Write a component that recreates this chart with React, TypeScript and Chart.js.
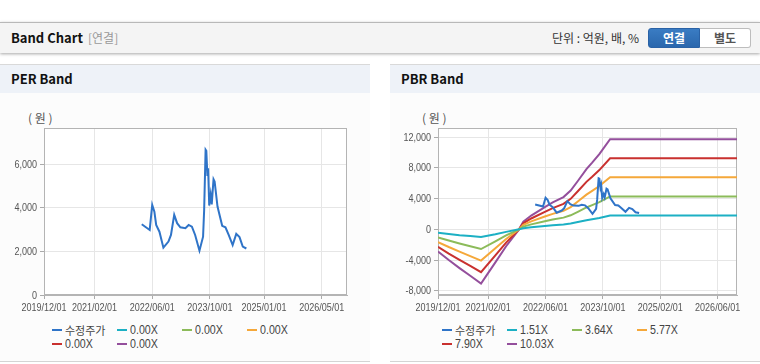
import React, { useEffect, useRef } from "react";
import { Chart, registerables } from "chart.js";

Chart.register(...registerables);

// ---------- data ----------
const perTickMonths = [0, 14, 30, 46, 61, 77];
const perTickLabels = ["2019/12/01", "2021/02/01", "2022/06/01", "2023/10/01", "2025/01/01", "2026/05/01"];
const pbrTickMonths = [0, 14, 30, 46, 62, 78];
const pbrTickLabels = ["2019/12/01", "2021/02/01", "2022/06/01", "2023/10/01", "2025/02/01", "2026/06/01"];
const perYTicks = [0, 2000, 4000, 6000];
const pbrYTicks = [-8000, -4000, 0, 4000, 8000, 12000];

// months since 2019/12/01
const priceMonths = [27.1, 29.3, 30.0, 30.6, 31.1, 32.0, 33.1, 34.5, 35.2, 36.1, 36.9, 37.8, 39.2, 40.1, 41.0, 41.9, 43.1, 44.1, 44.4, 44.8, 45.0, 45.3, 45.5, 45.8, 46.2, 46.5, 47.0, 47.3, 48.1, 49.4, 50.3, 51.2, 52.3, 53.3, 54.2, 55.1, 56.1];
const priceValues = [3240, 2980, 4130, 3820, 3210, 2900, 2170, 2450, 2750, 3670, 3290, 3100, 3060, 3210, 3130, 2750, 2030, 2670, 3900, 6650, 6600, 5450, 5800, 4100, 4600, 4150, 5300, 5200, 4050, 3170, 3100, 2750, 2290, 2800, 2650, 2220, 2130];

const bandMonths = [0, 3, 6, 9, 12, 16, 19, 22.6, 23.8, 26, 29.8, 32, 35, 37, 39, 41.4, 43, 45, 48, 84];
const band151 = [-435, -602, -760, -880, -1000, -648, -331, 0, 151, 270, 436, 527, 633, 760, 948, 1182, 1309, 1475, 1800, 1800];
const band364 = [-1048, -1452, -1831, -2195, -2566, -1562, -797, 0, 364, 652, 1052, 1270, 1525, 1831, 2286, 2850, 3156, 3556, 4290, 4290];
const band577 = [-1662, -2302, -2902, -3479, -4068, -2475, -1264, 0, 577, 1033, 1668, 2014, 2418, 2902, 3624, 4518, 5003, 5637, 6780, 6780];
const band790 = [-2275, -3152, -3974, -4764, -5570, -3389, -1730, 0, 790, 1414, 2283, 2757, 3310, 3974, 4961, 6186, 6849, 7718, 9260, 9260];
const band1003 = [-2889, -4002, -5045, -6048, -7071, -4303, -2197, 0, 1003, 1795, 2899, 3500, 4203, 5045, 6299, 7853, 8696, 9799, 11750, 11750];

const priceLabel = "수정주가";
const perBandLabels = ["0.00X", "0.00X", "0.00X", "0.00X", "0.00X"];
const pbrBandLabels = ["1.51X", "3.64X", "5.77X", "7.90X", "10.03X"];
const seriesColors = ["#2f74c8", "#1cb0c4", "#8cbb5a", "#f5a83a", "#c9312f", "#944f9c"];

const LAT_FONT = "'Liberation Sans', Arial, sans-serif";
const KR_FONT = "'Noto Sans CJK KR', 'Noto Sans', sans-serif";
const NARROW = 0.82;

const framePlugin = {
  id: "frame",
  beforeDraw(chart: any) {
    const { ctx, chartArea: a } = chart;
    ctx.save();
    ctx.fillStyle = "#ffffff";
    ctx.fillRect(a.left, a.top, a.right - a.left, a.bottom - a.top);
    ctx.restore();
  },
  beforeDatasetsDraw(chart: any) {
    const { ctx, chartArea: a } = chart;
    ctx.save();
    ctx.strokeStyle = "#b4b4b4";
    ctx.lineWidth = 1;
    const l = Math.round(a.left) + 0.5;
    const t = Math.round(a.top) + 0.5;
    const r = Math.round(a.right) - 0.5;
    const b = Math.round(a.bottom) - 0.5;
    ctx.strokeRect(l, t, r - l, b - t);
    ctx.restore();
  },
};

// draws the scales' own tick labels in a horizontally condensed face
const narrowLabelPlugin = {
  id: "narrowLabels",
  afterDraw(chart: any) {
    const { ctx, chartArea: a } = chart;
    const xs = chart.scales.x;
    const ys = chart.scales.y;
    ctx.save();
    ctx.fillStyle = "#555";
    ctx.font = "11px " + LAT_FONT;
    ctx.textBaseline = "top";
    ctx.textAlign = "center";
    xs.ticks.forEach((t: any) => {
      const px = xs.getPixelForValue(t.value);
      ctx.save();
      ctx.translate(px, a.bottom + 7);
      ctx.scale(NARROW, 1);
      ctx.fillText(String(t.label), 0, 0);
      ctx.restore();
    });
    ctx.textBaseline = "middle";
    ctx.textAlign = "right";
    ys.ticks.forEach((t: any) => {
      const py = ys.getPixelForValue(t.value);
      ctx.save();
      ctx.translate(a.left - 7, py + 0.5);
      ctx.scale(NARROW, 1);
      ctx.fillText(String(t.label), 0, 0);
      ctx.restore();
    });
    ctx.restore();
  },
};

function pts(xs: number[], ys: number[]) {
  return xs.map((x, i) => ({ x, y: ys[i] }));
}

function makeConfig(kind: "per" | "pbr"): any {
  const isPer = kind === "per";
  const tickMonths = isPer ? perTickMonths : pbrTickMonths;
  const tickLabels = isPer ? perTickLabels : pbrTickLabels;
  const yTicks = isPer ? perYTicks : pbrYTicks;
  const bandLabels = isPer ? perBandLabels : pbrBandLabels;
  const bandSeries = [band151, band364, band577, band790, band1003];
  const datasets: any[] = [
    {
      label: priceLabel,
      data: pts(priceMonths, priceValues),
      borderColor: seriesColors[0],
      borderWidth: 2,
    },
  ];
  bandLabels.forEach((lab, i) => {
    datasets.push({
      label: lab,
      data: isPer ? [] : pts(bandMonths, bandSeries[i]),
      borderColor: seriesColors[i + 1],
      borderWidth: 2,
    });
  });
  return {
    type: "line",
    data: { datasets },
    plugins: [framePlugin, narrowLabelPlugin],
    options: {
      animation: false,
      responsive: false,
      devicePixelRatio: 1,
      layout: { padding: { left: 0, right: 23, top: 8, bottom: 0 } },
      elements: { point: { radius: 0 }, line: { tension: 0 } },
      plugins: { legend: { display: false }, tooltip: { enabled: false } },
      scales: {
        x: {
          type: "linear",
          min: 0,
          max: isPer ? 84 : 83.4,
          afterBuildTicks: (s: any) => {
            s.ticks = tickMonths.map((v) => ({ value: v }));
          },
          afterFit: (s: any) => {
            s.height = 18;
          },
          ticks: {
            display: false,
            autoSkip: false,
            maxRotation: 0,
            callback: (_v: any, i: number) => tickLabels[i] ?? "",
          },
          grid: { color: "#e6e6e6", tickLength: 4, tickColor: "#aaa" },
          border: { color: "#b4b4b4" },
        },
        y: {
          type: "linear",
          min: isPer ? 0 : -8550,
          max: isPer ? 7650 : 13200,
          afterBuildTicks: (s: any) => {
            s.ticks = yTicks.map((v) => ({ value: v }));
          },
          afterFit: (s: any) => {
            s.width = isPer ? 44 : 48;
          },
          ticks: {
            display: false,
            callback: (v: any) => Number(v).toLocaleString("en-US"),
          },
          grid: { color: "#e6e6e6", tickLength: 4, tickColor: "#aaa" },
          border: { color: "#b4b4b4" },
        },
      },
    },
  };
}

function BandCanvas({ kind, left }: { kind: "per" | "pbr"; left: number }) {
  const ref = useRef<HTMLCanvasElement>(null);
  useEffect(() => {
    if (!ref.current) return;
    const chart = new Chart(ref.current, makeConfig(kind));
    return () => chart.destroy();
  }, [kind]);
  return (
    <canvas
      ref={ref}
      width={370}
      height={193}
      style={{ position: "absolute", left, top: 120, width: 370, height: 193 }}
    />
  );
}

function Legend({ left, bandLabels }: { left: number; bandLabels: string[] }) {
  const items = [priceLabel, ...bandLabels];
  return (
    <>
      {items.map((lab, i) => {
        const col = i < 4 ? i : i - 4;
        const row = i < 4 ? 0 : 1;
        const isKr = i === 0;
        return (
          <div
            key={i}
            style={{
              position: "absolute",
              left: left + 52 + col * 65,
              top: 322 + row * 14,
              height: 16,
              display: "flex",
              alignItems: "center",
              whiteSpace: "nowrap",
            }}
          >
            <span
              style={{
                display: "inline-block",
                width: 10,
                height: 2,
                background: seriesColors[i],
                marginRight: 3,
              }}
            />
            <span
              style={{
                display: "inline-block",
                fontFamily: isKr ? KR_FONT : LAT_FONT,
                fontSize: isKr ? 11 : 13,
                color: "#444",
                lineHeight: "16px",
                transform: isKr ? "none" : `scaleX(${NARROW})`,
                transformOrigin: "left center",
              }}
            >
              {lab}
            </span>
          </div>
        );
      })}
    </>
  );
}

function Panel({ left, title, kind, bandLabels }: { left: number; title: string; kind: "per" | "pbr"; bandLabels: string[] }) {
  return (
    <>
      <div
        style={{
          position: "absolute",
          left,
          top: 64,
          width: 370,
          height: 298,
          background: "#fcfcfc",
          borderTop: "1px solid #d9d9d9",
          borderBottom: "1px solid #d4d4d4",
          boxSizing: "border-box",
        }}
      />
      <div
        style={{
          position: "absolute",
          left,
          top: 65,
          width: 370,
          height: 28,
          background: "#eef2f8",
        }}
      />
      <div
        style={{
          position: "absolute",
          left: left + 11,
          top: 65,
          height: 28,
          lineHeight: "28px",
          fontFamily: KR_FONT,
          fontWeight: 700,
          fontSize: 13,
          color: "#111",
        }}
      >
        {title}
      </div>
      <div
        style={{
          position: "absolute",
          left: left + (kind === "per" ? 28 : 32),
          top: 109,
          lineHeight: "18px",
          fontFamily: KR_FONT,
          fontSize: 12,
          color: "#555",
          whiteSpace: "pre",
        }}
      >
        ( 원 )
      </div>
      <BandCanvas kind={kind} left={left} />
      <Legend left={left} bandLabels={bandLabels} />
    </>
  );
}

export default function App() {
  useEffect(() => {
    document.body.style.margin = "0";
  }, []);
  return (
    <div
      style={{
        position: "fixed",
        left: 0,
        top: 0,
        width: 760,
        height: 364,
        background: "#ffffff",
        overflow: "hidden",
        fontFamily: KR_FONT,
      }}
    >
      <div
        style={{
          position: "absolute",
          left: 0,
          top: 22,
          width: 760,
          height: 31,
          background: "#f4f4f4",
          borderTop: "1px solid #b8b8b8",
          boxShadow: "0 1px 3px rgba(0,0,0,0.35)",
          boxSizing: "border-box",
        }}
      />
      <div
        style={{
          position: "absolute",
          left: 11,
          top: 23,
          height: 30,
          lineHeight: "30px",
          fontWeight: 700,
          fontSize: 13,
          color: "#111",
        }}
      >
        Band Chart
      </div>
      <div
        style={{
          position: "absolute",
          left: 88,
          top: 23,
          height: 30,
          lineHeight: "30px",
          fontSize: 12,
          color: "#999",
        }}
      >
        [연결]
      </div>
      <div
        style={{
          position: "absolute",
          left: 552,
          top: 23,
          height: 30,
          lineHeight: "30px",
          fontSize: 12,
          color: "#333",
        }}
      >
        단위 : 억원, 배, %
      </div>
      <div
        style={{
          position: "absolute",
          left: 648,
          top: 28,
          width: 52,
          height: 20,
          lineHeight: "18px",
          textAlign: "center",
          background: "linear-gradient(#3a7cc3, #2a67ad)",
          border: "1px solid #2a62a6",
          borderRadius: "3px 0 0 3px",
          boxSizing: "border-box",
          color: "#fff",
          fontWeight: 700,
          fontSize: 12,
        }}
      >
        연결
      </div>
      <div
        style={{
          position: "absolute",
          left: 700,
          top: 28,
          width: 51,
          height: 20,
          lineHeight: "18px",
          textAlign: "center",
          background: "#fff",
          border: "1px solid #bdbdbd",
          borderLeft: "none",
          borderRadius: "0 3px 3px 0",
          boxSizing: "border-box",
          color: "#555",
          fontWeight: 700,
          fontSize: 12,
        }}
      >
        별도
      </div>

      <Panel left={0} title="PER Band" kind="per" bandLabels={perBandLabels} />
      <Panel left={390} title="PBR Band" kind="pbr" bandLabels={pbrBandLabels} />
    </div>
  );
}
